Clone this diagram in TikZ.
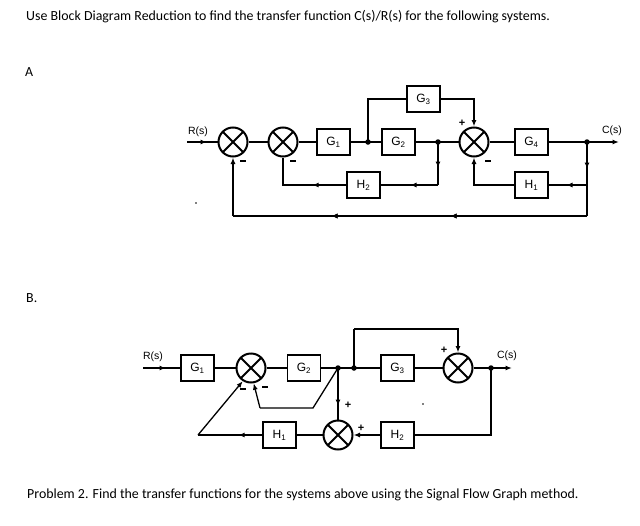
\documentclass[tikz,border=0pt]{standalone}
\usepackage{fontspec}
\setmainfont{Carlito}
\newfontfamily\arialf{Liberation Sans}
\usetikzlibrary{arrows.meta,decorations.markings}
\tikzset{
  tip/.style={-{Latex[length=6.5pt,width=5pt]}},
  wire/.style={line width=1.3pt},
  blk/.style={draw, line width=1.7pt, minimum width=33pt, minimum height=26pt, inner sep=0pt, font=\arialf\fontsize{12}{14}\selectfont},
  sumc/.style={circle, draw, line width=2pt, minimum size=29pt, inner sep=0pt,
    path picture={\draw[line width=2pt] (path picture bounding box.north west) -- (path picture bounding box.south east)
      (path picture bounding box.north east) -- (path picture bounding box.south west);}},
  midarr/.style={postaction={decorate}, decoration={markings, mark=at position #1 with {\arrow{Latex[length=6.5pt,width=5pt]}}}},
  jdot/.style={circle, fill, inner sep=0pt, minimum size=5.5pt},
  sgn/.style={font=\arialf\bfseries\fontsize{11}{12}\selectfont, inner sep=0pt},
  lbl/.style={font=\arialf\fontsize{10.5}{12}\selectfont, inner sep=0pt},
  txt/.style={anchor=base west, inner sep=0pt, font=\fontsize{13.9}{16}\selectfont}
}
\newcommand{\minussign}{\rule[2.5pt]{5.5pt}{1.6pt}}
\begin{document}
\begin{tikzpicture}[x=1pt,y=-1pt]
\useasboundingbox[fill=white] (0,0) rectangle (640,525);
% texts
\node[txt] (title) at (26,20) {Use Block Diagram Reduction to find the transfer function C(s)/R(s) for the following systems.};
\node[txt] (labA) at (25,76) {A};
\node[txt] (labB) at (26,302) {B.};
\node[txt] (prob) at (27,498) {Problem 2. Find the transfer functions for the systems above using the Signal Flow Graph method.};

% ================= Diagram A =================
\coordinate (Rin) at (187,142);
\node[sumc] (S1) at (233,142) {};
\node[sumc] (S2) at (283,142) {};
\node[blk] (G1) at (333.5,142) {G\textsubscript{1}};
\coordinate (B1) at (368,142);
\node[blk] (G2) at (398.5,142) {G\textsubscript{2}};
\node[blk] (G3) at (423.5,99) {G\textsubscript{3}};
\coordinate (B2) at (438,142);
\node[sumc] (S3) at (474,142) {};
\node[blk] (G4) at (531.5,142) {G\textsubscript{4}};
\coordinate (B3) at (587,142);
\coordinate (Cout) at (619,142);
\node[blk] (H2) at (363.5,185) {H\textsubscript{2}};
\node[blk] (H1) at (531.5,185) {H\textsubscript{1}};
\coordinate (B2d) at (438,185);
\coordinate (B3m) at (587,185);
\coordinate (B3d) at (587,216);
\coordinate (S1d) at (233,216);

\node[lbl] (Rlab) at (198,132) {R(s)};
\node[lbl] (Clab) at (612,131) {C(s)};

\draw[wire, midarr=20pt] (Rin) -- (S1.west);
\draw[wire] (S1) -- (S2) -- (G1) -- (G2) -- (S3) -- (G4) -- (B3);
\draw[wire, tip] (B3) -- (Cout);
\draw[wire] (B1) |- (G3.west);
\draw[wire, tip] (G3.east) -| (S3.north);
\draw[wire, midarr=26pt] (B2) -- (B2d);
\draw[wire, midarr=28pt] (B2d) -- (H2.east);
\draw[wire, midarr=34pt] (H2.west) -| (S2.south);
\draw[wire, midarr=27pt] (B3) -- (B3m);
\draw[wire] (B3m) -- (B3d);
\draw[wire, midarr=21pt] (B3m) -- (H1.east);
\draw[wire, tip] (H1.west) -| (S3.south);
\draw[wire, midarr=137pt, midarr=256pt] (B3d) -- (S1d);
\draw[wire, tip] (S1d) -- (S1.south);
\foreach \p in {B1,B2,B3} \node[jdot] at (\p) {};

\node[sgn] (mA1) at (243,162) {\minussign};
\node[sgn] (mA2) at (293,162) {\minussign};
\node[sgn] (mA3) at (488,162) {\minussign};
\node[sgn] (pA3) at (462,123) {+};
\fill (196,203) circle (0.8);

% ================= Diagram B =================
\coordinate (RinB) at (143,368);
\node[blk] (G1b) at (197.5,368) {G\textsubscript{1}};
\node[sumc] (S1b) at (251,368) {};
\node[blk] (G2b) at (304,368) {G\textsubscript{2}};
\coordinate (D1) at (338,368);
\coordinate (D2) at (354,368);
\node[blk] (G3b) at (397.5,368) {G\textsubscript{3}};
\node[sumc] (S2b) at (458,368) {};
\coordinate (D3) at (491,368);
\coordinate (CoutB) at (512,368);
\node[sumc] (S3b) at (338,435) {};
\node[blk] (H1b) at (279.5,435) {H\textsubscript{1}};
\node[blk] (H2b) at (397.5,435) {H\textsubscript{2}};
\coordinate (P1) at (313,408);
\coordinate (P2) at (260,408);
\coordinate (P3) at (198,435);
\coordinate (T1) at (354,329);

\node[lbl] (RlabB) at (153,357) {R(s)};
\node[lbl] (ClabB) at (507,356) {C(s)};

\draw[wire, midarr=23pt] (RinB) -- (G1b.west);
\draw[wire] (G1b) -- (S1b) -- (G2b) -- (D1) -- (D2) -- (G3b) -- (S2b) -- (D3);
\draw[wire, tip] (D3) -- (CoutB);
\draw[wire] (D2) -- (T1);
\draw[wire, tip] (T1) -| (S2b.north);
\draw[wire] (D1) -- (P1) -- (P2);
\draw[wire, tip] (P2) -- (S1b.-80);
\draw[wire, midarr=24pt] (H1b.west) -- (P3);
\draw[wire, tip] (P3) -- (S1b.-122);
\draw[wire, midarr=38pt] (D1) -- (S3b.north);
\draw[wire, tip] (H2b.west) -- (S3b.east);
\draw[wire] (S3b.west) -- (H1b.east);
\draw[wire] (H2b.east) -| (D3);
\foreach \p in {D1,D2,D3} \node[jdot] at (\p) {};

\node[sgn] (mB1) at (243,390) {\minussign};
\node[sgn] (mB2) at (265,388) {\minussign};
\node[sgn] (pB1) at (348,405) {+};
\node[sgn] (pB2) at (361,428) {+};
\node[sgn] (pB3) at (444,350) {+};
\fill (423,404) circle (0.8);
\end{tikzpicture}
\end{document}
